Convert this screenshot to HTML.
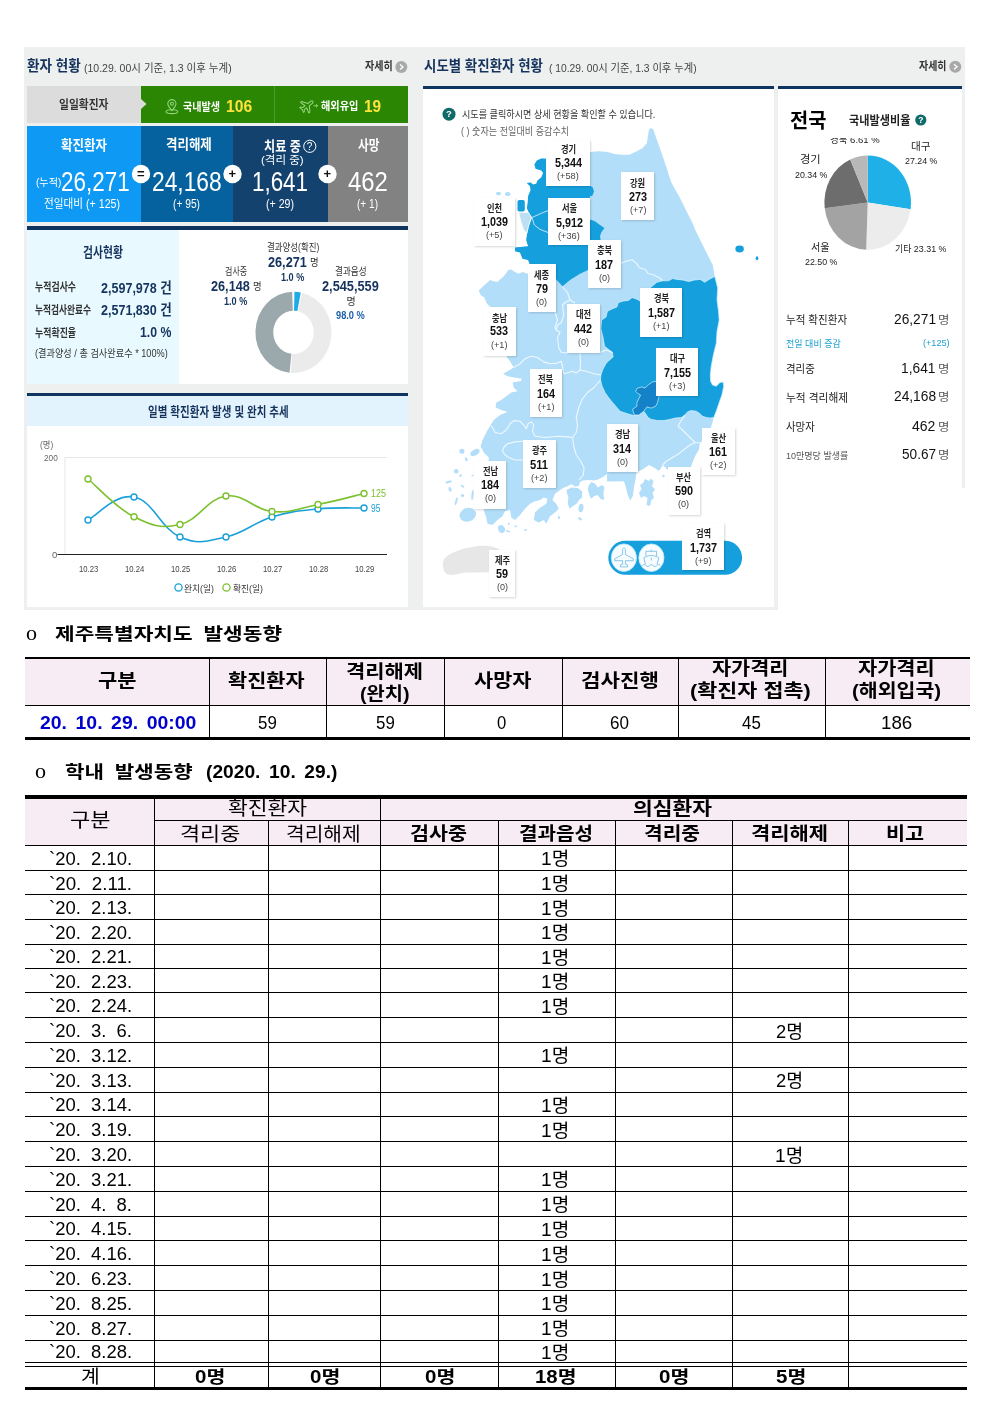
<!DOCTYPE html>
<html lang="ko"><head><meta charset="utf-8"><title>코로나19 발생동향</title>
<style>
html,body{margin:0;padding:0;}
body{width:992px;height:1403px;position:relative;background:#fff;overflow:hidden;font-family:"Liberation Sans","Noto Sans CJK KR",sans-serif;}
.t{position:absolute;white-space:nowrap;margin:0;padding:0;}
.r{position:absolute;}
svg.g{position:absolute;left:0;top:0;}
.lb{background:#fff;box-shadow:1px 1px 2px rgba(0,0,0,0.16);}

</style></head><body>
<div class="r" style="left:24px;top:47px;width:754px;height:563px;background:#eef0f0;"></div>
<div class="r" style="left:774px;top:47px;width:191px;height:440.5px;background:#eef0f0;"></div>
<div class="r" style="left:27px;top:85.5px;width:114px;height:37.0px;background:#dcdcdc;"></div>
<div class="r" style="left:141px;top:85.5px;width:266.5px;height:37.0px;background:#2a8603;"></div>
<div class="r" style="left:273.5px;top:85.5px;width:1.0px;height:37.0px;background:#4a9c2c;"></div>
<div class="r" style="left:27px;top:126px;width:114px;height:95.6px;background:#0e99f4;"></div>
<div class="r" style="left:141px;top:126px;width:91.5px;height:95.6px;background:#05629f;"></div>
<div class="r" style="left:232.5px;top:126px;width:95.0px;height:95.6px;background:#14426f;"></div>
<div class="r" style="left:327.5px;top:126px;width:80.0px;height:95.6px;background:#828282;"></div>
<div class="r" style="left:27px;top:226.3px;width:380.5px;height:3.6999999999999886px;background:#0f3460;"></div>
<div class="r" style="left:27px;top:230px;width:152px;height:154px;background:#e8faff;"></div>
<div class="r" style="left:179px;top:230px;width:228.5px;height:154px;background:#fff;"></div>
<div class="r" style="left:27px;top:392.5px;width:380.5px;height:3.0px;background:#0f3460;"></div>
<div class="r" style="left:27px;top:395.5px;width:380.5px;height:30.5px;background:#e3f3fd;"></div>
<div class="r" style="left:27px;top:426px;width:380.5px;height:181px;background:#fff;"></div>
<div class="r" style="left:423px;top:85.5px;width:351px;height:3.5px;background:#0f3460;"></div>
<div class="r" style="left:423px;top:89px;width:351px;height:518px;background:#fff;"></div>
<div class="r" style="left:778px;top:85.5px;width:184px;height:3.5px;background:#0f3460;"></div>
<div class="r" style="left:778px;top:89px;width:184px;height:398.5px;background:#fff;"></div>
<svg class="g" width="992" height="1403" viewBox="0 0 992 1403">
<circle cx="401.3" cy="67" r="6" fill="#a9a9a9"/><path d="M400 64.5 L403 67 L400 69.5" fill="none" stroke="#fff" stroke-width="1.3"/>
<circle cx="955.3" cy="66.8" r="6" fill="#a9a9a9"/><path d="M954 64.3 L957 66.8 L954 69.3" fill="none" stroke="#fff" stroke-width="1.3"/>
<path d="M141 99 L146.5 104 L141 109 Z" fill="#dcdcdc"/>
<g fill="none" stroke="#93d67c" stroke-width="1.1" transform="translate(0.4 3.3)"><path d="M171.5 107.3 C168.3 103.5 167.4 102 167.4 100.4 a4.1 4.1 0 0 1 8.2 0 C175.6 102 174.7 103.5 171.5 107.3 Z"/><circle cx="171.5" cy="100.4" r="1.5"/><ellipse cx="171.5" cy="108.4" rx="5.8" ry="1.9"/></g>
<g fill="none" stroke="#93d67c" stroke-width="1" stroke-linejoin="round"><path transform="translate(307.3 105.6) rotate(52)" d="M0 -7 C0.9 -7 1.3 -6 1.3 -5 L1.3 -1.6 L6.8 2 L6.8 3.4 L1.3 1.9 L1.3 4.8 L3 6.2 L3 7.2 L0 6.4 L-3 7.2 L-3 6.2 L-1.3 4.8 L-1.3 1.9 L-6.8 3.4 L-6.8 2 L-1.3 -1.6 L-1.3 -5 C-1.3 -6 -0.9 -7 0 -7 Z"/><path d="M313.6 105.8 H317.6 M316 104.2 L317.7 105.8 L316 107.4"/></g>
<circle cx="309.8" cy="146.3" r="6.1" fill="none" stroke="#fff" stroke-width="1"/>
<circle cx="141" cy="174" r="9.2" fill="#fff"/>
<circle cx="232.5" cy="174" r="9.2" fill="#fff"/>
<circle cx="327.5" cy="174" r="9.2" fill="#fff"/>
<path d="M294.49 291.65 A38 40.66 0 0 1 300.75 292.39 L297.35 311.08 A20.2 21.61 0 0 0 294.03 310.69 Z" fill="#1eaae8"/>
<path d="M302.05 292.68 A38 40.66 0 0 1 290.85 372.86 L292.09 353.86 A20.2 21.61 0 0 0 298.04 311.24 Z" fill="#ebebeb"/>
<path d="M289.53 372.74 A38 40.66 0 0 1 292.17 291.66 L292.80 310.70 A20.2 21.61 0 0 0 291.39 353.80 Z" fill="#9ba8ac"/>
<path d="M65 457.5 H387 M65 457.5 V554" fill="none" stroke="#e6e6e6" stroke-width="1"/>
<path d="M57.5 554.5 H387" stroke="#222" stroke-width="1.2" fill="none"/>
<path d="M88 520 C97.5 515.2 115.0 493.5 134 497 C153.0 500.5 161.0 528.7 180 537 C199.0 545.3 207.0 541.1 226 537 C245.0 532.9 253.0 522.8 272 517 C291.0 511.2 299.0 510.9 318 509 C337.0 507.1 354.5 508.2 364 508" fill="none" stroke="#1aa0d8" stroke-width="1.6"/>
<path d="M88 479 C97.5 486.8 115.0 507.3 134 516.75 C153.0 526.2 161.0 528.8 180 524.5 C199.0 520.2 207.0 498.7 226 496 C245.0 493.3 253.0 509.7 272 511.5 C291.0 513.3 299.0 508.2 318 504.5 C337.0 500.8 354.5 495.8 364 493.5" fill="none" stroke="#7ec12f" stroke-width="1.6"/>
<circle cx="88" cy="520" r="3" fill="#fff" stroke="#1aa0d8" stroke-width="1.4"/>
<circle cx="134" cy="497" r="3" fill="#fff" stroke="#1aa0d8" stroke-width="1.4"/>
<circle cx="180" cy="537" r="3" fill="#fff" stroke="#1aa0d8" stroke-width="1.4"/>
<circle cx="226" cy="537" r="3" fill="#fff" stroke="#1aa0d8" stroke-width="1.4"/>
<circle cx="272" cy="517" r="3" fill="#fff" stroke="#1aa0d8" stroke-width="1.4"/>
<circle cx="318" cy="509" r="3" fill="#fff" stroke="#1aa0d8" stroke-width="1.4"/>
<circle cx="364" cy="508" r="3" fill="#fff" stroke="#1aa0d8" stroke-width="1.4"/>
<circle cx="88" cy="479" r="3" fill="#fff" stroke="#7ec12f" stroke-width="1.4"/>
<circle cx="134" cy="516.75" r="3" fill="#fff" stroke="#7ec12f" stroke-width="1.4"/>
<circle cx="180" cy="524.5" r="3" fill="#fff" stroke="#7ec12f" stroke-width="1.4"/>
<circle cx="226" cy="496" r="3" fill="#fff" stroke="#7ec12f" stroke-width="1.4"/>
<circle cx="272" cy="511.5" r="3" fill="#fff" stroke="#7ec12f" stroke-width="1.4"/>
<circle cx="318" cy="504.5" r="3" fill="#fff" stroke="#7ec12f" stroke-width="1.4"/>
<circle cx="364" cy="493.5" r="3" fill="#fff" stroke="#7ec12f" stroke-width="1.4"/>
<circle cx="178.5" cy="587.5" r="3.6" fill="#fff" stroke="#1aa0d8" stroke-width="1.3"/>
<circle cx="226.5" cy="587.5" r="3.6" fill="#fff" stroke="#7ec12f" stroke-width="1.3"/>
<circle cx="449" cy="114.2" r="6.5" fill="#0f6a6a"/>
<polygon points="590,152 598.9,151.2 607.6,152 614.8,154.1 622.1,154.8 629.4,154.8 635.2,152 642.4,148.3 646.8,143.2 648.2,134.5 649,129.4 651.1,128 653.3,129.4 655.5,136 659.1,146.1 662.7,156.3 667.1,169.4 670.7,181 674.4,188.2 678.7,195.5 683.1,204.2 687.4,212.9 692.5,223.1 696.1,231.8 700.5,240.5 704.8,249.2 709.2,257.9 712.8,265.2 714.3,273.9 714.8,276.5 717.7,288 717,299.7 718.5,311.3 719.2,320 717,331.6 716.3,343.2 713.4,354.8 711.2,366.4 710.3,375 710.6,381.25 712.5,385 716.25,386.25 720,382.5 723.1,381.9 723.75,386.25 721.9,395 718.75,403.75 716.25,411.25 713.75,417.5 712.5,422.5 710,430 705,438 700,443 698.75,450 695,456.25 692.5,462.5 691.25,466.25 688,470 675,472 668,470 662.75,465 659,471 654,467.5 649,465 641.5,470 636.5,472 635.25,481.25 634,487.5 632.75,496.25 630.25,500.6 627.75,495 625.9,487.5 624,481.25 607,481.5 607,474 603,477 598,479.5 594,480.5 588,480 583,480.5 580,482 579,486 575,486.5 571.5,484 568,486 564,487.5 560,490 555,493.75 552.5,500 556.25,503.75 558.75,508.75 555,512.5 550,516.25 546.25,523.75 543.75,520 538.75,522.5 533.75,520 535,512.5 538.75,508.75 542.5,506.25 546.25,503.75 547.5,498.75 543.75,497.5 540,500 535,501.25 530,503.75 525,508.75 520,515 515,520 511.25,517.5 510,510 505,511.25 502.5,516.25 497.5,520 492.5,525 487.5,523.75 486.25,517.5 483.75,510 483,500 484,480 488.75,460 488.75,457.5 483.75,452.5 480.6,446.25 482.5,440 486.25,432.5 490.6,425 493.75,420 500,415 507.5,411.9 501.25,410 495.6,407.5 496.25,402.5 501.25,400 506.25,396.25 511.25,392.5 517.5,391.25 513.75,387.5 512.5,382.5 521.25,381 521.25,378.5 513.75,377.5 507.5,376.25 503.1,373.75 507.5,371.25 513.75,367.5 510,361.25 506.25,356.25 500,340 495,320 491.25,307.5 488.75,305.6 486.25,302.5 484.4,297.5 480.6,295 478.75,290.6 483.1,286.25 486.9,283.1 490,280 493.75,281.25 497.5,281.9 500,279.4 503.1,276.9 506.25,273.1 508.1,270 511.25,269.4 515,271.9 518.75,273.75 522.5,271.9 528,273.75 540,275 540,266 530,265 528.1,260 522.5,258.75 520,252.5 515,251.25 515,247.5 528.1,246.25 526.25,240 526.9,235 528.75,226.25 531.9,217.5 528.75,212.5 526.9,208.1 527.75,202.5 528.1,196.25 530.6,190 530,186.25 526.9,183.1 530.6,182.5 533.1,184.4 536.25,183.75 537.5,180.6 541.25,177.5 543.1,173.1 541.25,170.6 535.6,168.75 534.4,164.4 536.9,160.6 541.25,158.5 546.9,158.75 590,158" fill="#b3defa"/>
<polygon points="546.9,158.75 541.25,158.5 536.9,160.6 534.4,164.4 535.6,168.75 541.25,170.6 543.1,173.1 541.25,177.5 537.5,180.6 536.25,183.75 533.1,184.4 530.6,182.5 526.9,183.1 530,186.25 530.6,190 528.1,196.25 527.75,202.5 526.9,208.1 528.75,212.5 531.9,217.5 528.75,226.25 526.9,235 526.25,240 528.1,246.25 515,247.5 515,251.25 520,252.5 522.5,258.75 528.1,260 530,265 555.6,265 555.6,278.75 562.5,286.25 570,280 580,273.75 588.1,270 600.6,262 600.6,240 600,236.25 601.25,232.5 604.4,228.1 600,225 595,221.25 590,219.4 590,197 589,196.9 592.5,195.5 594,191.2 592.5,187 589,185.6 546.9,185.6" fill="#15a0dd"/>
<rect x="517.5" y="200" width="7.3" height="11.5" rx="1.8" fill="#15a0dd"/>
<polygon points="518.75,212.5 528.5,212.5 531.5,217.5 528.5,226 527,233 524,230.5 521,222" fill="#bcdff2" stroke="#fff" stroke-width="0.7"/>
<ellipse cx="498.5" cy="193.6" rx="2.6" ry="1.8" fill="#b3defa"/><ellipse cx="507.8" cy="194" rx="2.8" ry="2" fill="#b3defa"/>
<path d="M531.9 217.5 L537.5 215 L543.1 212.5 L548.1 210.6 M531.9 217.5 L534.4 225 L540 229.4 L548.1 232.5" fill="none" stroke="#e8f4fc" stroke-width="0.8"/>
<polygon points="714.8,276.5 709,279.4 704.7,282.3 700.3,279.4 694.5,280 688.7,281.5 682.9,280 677.1,279.4 672.7,278.6 668.4,280.8 662.6,280.8 656.8,282.3 652.4,285.9 648,290 644,296 640,301 636.5,299 632.1,297.5 628.5,300.4 623.4,301 618.3,302.6 616.9,306.9 611.8,309 607.4,311.3 606,317 601.6,320 600.9,328.7 603,337.4 604.5,346 608,349 612.5,352.5 613,357 609,360.5 606,363.5 603,369 600.9,375 600.5,380 602,386 605,392.5 608.5,397.5 612.5,402.5 616,406.5 620,411.25 627.5,413.75 633.75,415.6 638.75,415 643.75,411.25 645.6,413.75 648.1,417.5 651.25,419.4 657.5,420.6 663.75,420.6 670,419.4 675,418.1 681.25,417.5 685,415 687.5,411.9 691.25,410.6 696.25,411.25 700,413.75 702.5,416.25 706.25,417.5 710,418.1 713.75,417.5 713.75,417.5 716.25,411.25 718.75,403.75 721.9,395 723.75,386.25 723.1,381.9 720,382.5 716.25,386.25 712.5,385 710.6,381.25 710.3,375 711.2,366.4 713.4,354.8 716.3,343.2 717,331.6 719.2,320 718.5,311.3 717,299.7 717.7,288" fill="#15a0dd" stroke="#d9f3fd" stroke-width="0.7" stroke-linejoin="round"/>
<polygon points="660,381 656.25,381.25 652.5,381.9 648.1,385 645,388.1 641.9,386.9 637.5,388.1 635.6,391.25 638.1,393.75 640.6,395 638.75,398.75 636.9,402.5 636.9,406.25 632.5,409.4 634.4,415 638.75,415 643.75,411.25 646.9,406.9 651.25,408.1 655.6,406.25 657.5,402.5 658.75,397.5 660,394" fill="#1482c8" stroke="#d6ecfa" stroke-width="0.7"/>
<ellipse cx="739.6" cy="249" rx="4.3" ry="3.4" fill="#15a0dd"/><ellipse cx="757" cy="258.3" rx="1.3" ry="2" fill="#15a0dd"/>
<polygon points="645,479 649,481 650.5,478.5 653.5,481 652,486 655,489.5 652.5,493 654,498 651.5,500 650,506 646.5,505 647.5,498 644,496 641,498 639,493 641.5,489 640,485 643,483" fill="#b3defa"/>
<polygon points="589,485 591.5,482 595.25,483.75 597.75,487.5 602,485 604.6,487.5 603.4,492.5 604,500 600.25,498.75 597.75,495 594,496.25 590.9,498.75 589,493.75 587.75,488.75" fill="#b3defa"/>
<polygon points="566.5,490 571.5,487.5 577.75,488.1 582.1,491.25 582.1,497.5 579,500 576.5,503.75 572.75,506.25 569.6,508.75 567.75,503.75 568.4,497.5 567.1,493.75" fill="#b3defa"/>
<path d="M620.5 263.4 L626.3 261.2 L632.1 259.8 L636.5 263.4 L639.4 267.7 L645.2 269.2 L648 273.5 L653.9 275 L659.7 277.9 L662.6 280.5" fill="none" stroke="#eef8fe" stroke-width="1.1" stroke-linejoin="round"/>
<path d="M562.5 286.9 L567.5 292.5 L570 300 L565 302.5 L562.5 305 L563.75 315 L561.25 322.5 L557.5 325 L556.25 330 L560 332.5 L557.5 337.5 L558.75 347.5 L561.25 352.5 L567 353" fill="none" stroke="#eef8fe" stroke-width="1.1" stroke-linejoin="round"/>
<path d="M555 312.5 L557.5 320 L555 327.5 L556.25 330" fill="none" stroke="#eef8fe" stroke-width="1.1" stroke-linejoin="round"/>
<path d="M570 300 L575 303 M600 352.5 L606 350 L612.5 352.5 M580 352 L580 355 L580.6 362.5 L580 370" fill="none" stroke="#eef8fe" stroke-width="1.1" stroke-linejoin="round"/>
<path d="M513.75 367.5 L520 363.75 L525 358.75 L531.25 356.25 L537.5 357.5 L543.75 361.9 L550 363.75 L557.5 363.1 L561.25 361.25 L562.5 366.25 L563.75 373.75 L568.75 372.5 L572.5 371.25 L576.25 373.1 L580 370 L586.25 371.25 L594 373.75 L600.9 375" fill="none" stroke="#eef8fe" stroke-width="1.1" stroke-linejoin="round"/>
<path d="M600.5 380 L594 387.5 L587.5 392.5 L582.5 398.75 L578.75 407.5 L576.25 417.5 L577.5 425 L576.25 432.5 L572.5 437.5" fill="none" stroke="#eef8fe" stroke-width="1.1" stroke-linejoin="round"/>
<path d="M490.6 425 L492.5 427.5 L495 432.5 L501.25 433.75 L506.25 430 L510 423.75 L513.75 420.6 L520 421.25 L523.75 425 L526.25 428.75 L528.1 423.75 L531.25 421.9 L533.75 425 L532.5 431.25 L535 436.25 L545 437.5 L557.5 436.25 L567.5 436.9 L572.5 437.5" fill="none" stroke="#eef8fe" stroke-width="1.1" stroke-linejoin="round"/>
<path d="M572.5 437.5 L573.75 446.25 L576.25 455 L580 460 L584 467.5 L583.4 475 L579 480" fill="none" stroke="#eef8fe" stroke-width="1.1" stroke-linejoin="round"/>
<path d="M523.75 441.25 L515 441.9 L507.5 443.75 L503.75 447.5 L502.5 451.25 L505 455 L510 458.1 L515 460 L523.75 460" fill="none" stroke="#eef8fe" stroke-width="1.1" stroke-linejoin="round"/>
<path d="M685 415 L680 422.5 L678.1 426.25 L682.5 430 L687.5 435 L692.5 440 L695 442.5 L700 443 M695 442.5 L690 445 L685 448.75 L678.75 453.75 L672.5 457.5 L666.25 461.25 L662.5 465" fill="none" stroke="#eef8fe" stroke-width="1.1" stroke-linejoin="round"/>
<ellipse cx="461.9" cy="451.25" rx="2.5" ry="2.5" fill="#b3defa" transform="rotate(0 461.9 451.25)"/>
<ellipse cx="475" cy="452.5" rx="5" ry="2.8" fill="#b3defa" transform="rotate(-30 475 452.5)"/>
<ellipse cx="466.25" cy="459.4" rx="1.2" ry="2.2" fill="#b3defa" transform="rotate(-20 466.25 459.4)"/>
<ellipse cx="456.25" cy="471.25" rx="2.3" ry="2.3" fill="#b3defa" transform="rotate(0 456.25 471.25)"/>
<ellipse cx="460.6" cy="475.6" rx="1" ry="1.6" fill="#b3defa" transform="rotate(30 460.6 475.6)"/>
<ellipse cx="448.75" cy="481.9" rx="3.5" ry="1.1" fill="#b3defa" transform="rotate(-15 448.75 481.9)"/>
<ellipse cx="472.5" cy="475.6" rx="1.2" ry="0.8" fill="#b3defa" transform="rotate(0 472.5 475.6)"/>
<ellipse cx="450" cy="489.4" rx="1.5" ry="2.5" fill="#b3defa" transform="rotate(-15 450 489.4)"/>
<ellipse cx="462.5" cy="486.25" rx="2.2" ry="1" fill="#b3defa" transform="rotate(35 462.5 486.25)"/>
<ellipse cx="462.5" cy="495.6" rx="1.6" ry="1.6" fill="#b3defa" transform="rotate(0 462.5 495.6)"/>
<ellipse cx="472.5" cy="495" rx="1.1" ry="5" fill="#b3defa" transform="rotate(5 472.5 495)"/>
<ellipse cx="456.25" cy="501.25" rx="1.1" ry="4" fill="#b3defa" transform="rotate(15 456.25 501.25)"/>
<ellipse cx="467.8" cy="514.7" rx="8.4" ry="6.8" fill="#b3defa" transform="rotate(-20 467.8 514.7)"/>
<ellipse cx="501.5" cy="529" rx="3.3" ry="4" fill="#b3defa" transform="rotate(-25 501.5 529)"/>
<ellipse cx="508" cy="531.25" rx="2.5" ry="0.9" fill="#b3defa" transform="rotate(20 508 531.25)"/>
<ellipse cx="508.75" cy="523.75" rx="1.1" ry="1.1" fill="#b3defa" transform="rotate(0 508.75 523.75)"/>
<ellipse cx="515.6" cy="526.25" rx="1.2" ry="1" fill="#b3defa" transform="rotate(0 515.6 526.25)"/>
<ellipse cx="525.6" cy="530" rx="1.4" ry="1" fill="#b3defa" transform="rotate(0 525.6 530)"/>
<ellipse cx="558.75" cy="517.5" rx="0.9" ry="1.6" fill="#b3defa" transform="rotate(0 558.75 517.5)"/>
<ellipse cx="581" cy="508" rx="2.4" ry="4.2" fill="#b3defa" transform="rotate(10 581 508)"/>
<ellipse cx="580" cy="518.75" rx="2.2" ry="1.2" fill="#b3defa" transform="rotate(35 580 518.75)"/>
<ellipse cx="559" cy="517.5" rx="0.9" ry="1.2" fill="#b3defa" transform="rotate(0 559 517.5)"/>
<ellipse cx="663.4" cy="476" rx="1.2" ry="1.2" fill="#b3defa" transform="rotate(0 663.4 476)"/>
<path d="M443 566 C442 560 445.5 556.5 452 553 C460 549.5 470 546.5 482 545.8 C490 545.3 496 547 500 550 L500 572 C490 572.5 478 572.5 468 572.5 C462 572.5 458 574.5 452 575 C446 575.2 443.5 572 443 566 Z" fill="#e7e7e7"/>
<rect x="608.3" y="540.7" width="133.8" height="34" rx="17" fill="#15a0dd"/>
<ellipse cx="623.9" cy="557.7" rx="12.6" ry="13.8" fill="#f6fcff" stroke="#bfe6f8" stroke-width="0.8"/>
<ellipse cx="651.4" cy="557.7" rx="12.6" ry="13.8" fill="#f6fcff" stroke="#bfe6f8" stroke-width="0.8"/>
<g fill="none" stroke="#7fc0e4" stroke-width="0.9" stroke-linejoin="round"><path d="M624 548 c1 0 1.4 0.8 1.4 1.8 v4.6 l7.9 4.4 v1.9 h-7.9 v3.6 l2.2 0.6 v2 h-7.2 v-2 l2.2 -0.6 v-3.6 h-7.9 v-1.9 l7.9 -4.4 v-4.6 c0 -1 0.4 -1.8 1.4 -1.8 Z"/></g>
<g fill="none" stroke="#7fc0e4" stroke-width="0.9" stroke-linejoin="round"><path d="M645.9 556 v-4.7 h10.7 v4.7"/><path d="M651.25 551.3 v-1.6"/><path d="M643.8 557.8 c2.5 -1.6 5 -2.3 7.5 -2.3 c2.5 0 5 0.7 7.5 2.3 l-1.6 6.4 M643.8 557.8 l1.6 6.4"/><path d="M651.3 557.5 v3"/><path d="M642.3 565.6 c1.2 -1.4 2.4 -1.4 3.6 0 c1.2 1.2 2.4 1.2 3.6 0 c1.2 -1.4 2.4 -1.4 3.6 0 c1.2 1.2 2.4 1.2 3.6 0 c1.2 -1.4 2.4 -1.4 3.6 0"/></g>
<circle cx="920.8" cy="120" r="5.6" fill="#0f6a6a"/>
<path d="M867.7 202.6 L867.70 155.40 A43.3 47.20 0 0 1 910.57 209.25 Z" fill="#1fb0e8"/>
<path d="M867.7 202.6 L910.57 209.25 A43.3 47.20 0 0 1 866.19 249.77 Z" fill="#ececec"/>
<path d="M867.7 202.6 L866.19 249.77 A43.3 47.20 0 0 1 824.72 208.35 Z" fill="#a3a3a3"/>
<path d="M867.7 202.6 L824.72 208.35 A43.3 47.20 0 0 1 850.23 159.42 Z" fill="#6d6d6d"/>
<path d="M867.7 202.6 L850.23 159.42 A43.3 47.20 0 0 1 867.70 155.40 Z" fill="#b8b8b8"/>
</svg>
<div class="r lb" style="left:546px;top:140px;width:44.0px;height:46.0px;"></div>
<div class="r lb" style="left:621.4px;top:172.3px;width:32.6px;height:47.9px;"></div>
<div class="r lb" style="left:474px;top:197.5px;width:41.0px;height:48.5px;"></div>
<div class="r lb" style="left:548px;top:198px;width:42.0px;height:47.0px;"></div>
<div class="r lb" style="left:588px;top:240px;width:32.6px;height:48.0px;"></div>
<div class="r lb" style="left:528px;top:264.4px;width:27.6px;height:48.1px;"></div>
<div class="r lb" style="left:482.5px;top:306.9px;width:33.1px;height:49.1px;"></div>
<div class="r lb" style="left:567px;top:304px;width:33.0px;height:48.5px;"></div>
<div class="r lb" style="left:640px;top:288px;width:42.2px;height:48.7px;"></div>
<div class="r lb" style="left:656.25px;top:348.1px;width:41.9px;height:47.5px;"></div>
<div class="r lb" style="left:529.5px;top:369px;width:32.5px;height:48.0px;"></div>
<div class="r lb" style="left:606.5px;top:424px;width:31.5px;height:47.5px;"></div>
<div class="r lb" style="left:523px;top:440px;width:32.5px;height:48.0px;"></div>
<div class="r lb" style="left:702px;top:427.5px;width:33.0px;height:47.5px;"></div>
<div class="r lb" style="left:474.4px;top:460.6px;width:31.6px;height:48.8px;"></div>
<div class="r lb" style="left:667.5px;top:466.5px;width:32.5px;height:48.5px;"></div>
<div class="r lb" style="left:489px;top:549.5px;width:26.0px;height:47.5px;"></div>
<div class="r lb" style="left:681.7px;top:523px;width:42.6px;height:47.3px;"></div>
<div class="r" style="left:826px;top:138px;width:56px;height:8px;overflow:hidden;"><div class="t" style="left:4px;top:-5.4px;font-size:9.5px;line-height:13px;color:#222;">경북 6.61 %</div></div>
<div class="r" style="left:25px;top:658px;width:944.5px;height:47px;background:#f8ecf4;"></div>
<div class="r" style="left:25px;top:657px;width:944.5px;height:2.2999999999999545px;background:#000;"></div>
<div class="r" style="left:25px;top:705px;width:944.5px;height:1px;background:#000;"></div>
<div class="r" style="left:25px;top:737.2px;width:944.5px;height:2.3999999999999773px;background:#000;"></div>
<div class="r" style="left:208.5px;top:658px;width:1.0px;height:80px;background:#000;"></div>
<div class="r" style="left:325.5px;top:658px;width:1.0px;height:80px;background:#000;"></div>
<div class="r" style="left:443.5px;top:658px;width:1.0px;height:80px;background:#000;"></div>
<div class="r" style="left:561.5px;top:658px;width:1.0px;height:80px;background:#000;"></div>
<div class="r" style="left:677.5px;top:658px;width:1.0px;height:80px;background:#000;"></div>
<div class="r" style="left:824.5px;top:658px;width:1.0px;height:80px;background:#000;"></div>
<div class="r" style="left:25px;top:797px;width:941.5px;height:48px;background:#f8ecf4;"></div>
<div class="r" style="left:25px;top:795px;width:941.5px;height:3.5px;background:#000;"></div>
<div class="r" style="left:153.5px;top:820px;width:813.0px;height:1px;background:#000;"></div>
<div class="r" style="left:25px;top:845px;width:941.5px;height:1px;background:#000;"></div>
<div class="r" style="left:25px;top:870px;width:941.5px;height:1px;background:#000;"></div>
<div class="r" style="left:25px;top:894px;width:941.5px;height:1px;background:#000;"></div>
<div class="r" style="left:25px;top:919px;width:941.5px;height:1px;background:#000;"></div>
<div class="r" style="left:25px;top:944px;width:941.5px;height:1px;background:#000;"></div>
<div class="r" style="left:25px;top:968px;width:941.5px;height:1px;background:#000;"></div>
<div class="r" style="left:25px;top:992px;width:941.5px;height:1px;background:#000;"></div>
<div class="r" style="left:25px;top:1017px;width:941.5px;height:1px;background:#000;"></div>
<div class="r" style="left:25px;top:1042px;width:941.5px;height:1px;background:#000;"></div>
<div class="r" style="left:25px;top:1067px;width:941.5px;height:1px;background:#000;"></div>
<div class="r" style="left:25px;top:1092px;width:941.5px;height:1px;background:#000;"></div>
<div class="r" style="left:25px;top:1116px;width:941.5px;height:1px;background:#000;"></div>
<div class="r" style="left:25px;top:1141px;width:941.5px;height:1px;background:#000;"></div>
<div class="r" style="left:25px;top:1166px;width:941.5px;height:1px;background:#000;"></div>
<div class="r" style="left:25px;top:1191px;width:941.5px;height:1px;background:#000;"></div>
<div class="r" style="left:25px;top:1216px;width:941.5px;height:1px;background:#000;"></div>
<div class="r" style="left:25px;top:1240px;width:941.5px;height:1px;background:#000;"></div>
<div class="r" style="left:25px;top:1265px;width:941.5px;height:1px;background:#000;"></div>
<div class="r" style="left:25px;top:1290px;width:941.5px;height:1px;background:#000;"></div>
<div class="r" style="left:25px;top:1315px;width:941.5px;height:1px;background:#000;"></div>
<div class="r" style="left:25px;top:1340px;width:941.5px;height:1px;background:#000;"></div>
<div class="r" style="left:25px;top:1362px;width:941.5px;height:1px;background:#000;"></div>
<div class="r" style="left:25px;top:1365.5px;width:941.5px;height:1.0px;background:#000;"></div>
<div class="r" style="left:25px;top:1387px;width:941.5px;height:3px;background:#000;"></div>
<div class="r" style="left:153.5px;top:797px;width:1.0px;height:591px;background:#000;"></div>
<div class="r" style="left:267.5px;top:821px;width:1.0px;height:567px;background:#000;"></div>
<div class="r" style="left:379.5px;top:797px;width:1.0px;height:591px;background:#000;"></div>
<div class="r" style="left:497.5px;top:821px;width:1.0px;height:567px;background:#000;"></div>
<div class="r" style="left:614.5px;top:821px;width:1.0px;height:567px;background:#000;"></div>
<div class="r" style="left:731.5px;top:821px;width:1.0px;height:567px;background:#000;"></div>
<div class="r" style="left:847.5px;top:821px;width:1.0px;height:567px;background:#000;"></div>
<div class="t" style="left:27.00px;top:55.00px;font-size:15px;line-height:22px;font-weight:700;color:#15335d;transform:scaleX(0.907);transform-origin:0 0;">환자 현황</div>
<div class="t" style="left:84.00px;top:59.50px;font-size:11px;line-height:16px;color:#444;transform:scaleX(0.955);transform-origin:0 0;">(10.29. 00시 기준, 1.3 이후 누계)</div>
<div class="t" style="left:364.75px;top:58.20px;font-size:11px;line-height:16px;font-weight:700;color:#333;transform:scaleX(0.915);transform-origin:0 0;">자세히</div>
<div class="t" style="left:423.75px;top:55.00px;font-size:15px;line-height:22px;font-weight:700;color:#15335d;transform:scaleX(0.897);transform-origin:0 0;">시도별 확진환자 현황</div>
<div class="t" style="left:549.00px;top:59.50px;font-size:11px;line-height:16px;color:#444;transform:scaleX(0.936);transform-origin:0 0;">( 10.29. 00시 기준, 1.3 이후 누계)</div>
<div class="t" style="left:919.00px;top:58.20px;font-size:11px;line-height:16px;font-weight:700;color:#333;transform:scaleX(0.906);transform-origin:0 0;">자세히</div>
<div class="t" style="left:59.05px;top:96.30px;font-size:12px;line-height:18px;font-weight:700;color:#333;transform:scaleX(0.897);transform-origin:0 0;">일일확진자</div>
<div class="t" style="left:183.40px;top:98.50px;font-size:11px;line-height:16px;font-weight:700;color:#fff;transform:scaleX(0.917);transform-origin:0 0;">국내발생</div>
<div class="t" style="left:226.02px;top:95.10px;font-size:16px;line-height:24px;font-weight:700;color:#ffe33a;transform:scaleX(0.977);transform-origin:0 0;">106</div>
<div class="t" style="left:320.70px;top:98.00px;font-size:11px;line-height:16px;font-weight:700;color:#fff;transform:scaleX(0.922);transform-origin:0 0;">해외유입</div>
<div class="t" style="left:364.04px;top:95.10px;font-size:16px;line-height:24px;font-weight:700;color:#ffe33a;transform:scaleX(0.959);transform-origin:0 0;">19</div>
<div class="t" style="left:61.00px;top:134.50px;font-size:14px;line-height:21px;font-weight:700;color:#fff;transform:scaleX(0.891);transform-origin:0 0;">확진환자</div>
<div class="t" style="left:35.50px;top:175.00px;font-size:10px;line-height:15px;color:#fff;transform:scaleX(1.011);transform-origin:0 0;">(누적)</div>
<div class="t" style="left:61.17px;top:161.50px;font-size:27px;line-height:40px;color:#fff;transform:scaleX(0.832);transform-origin:0 0;">26,271</div>
<div class="t" style="left:44.00px;top:195.00px;font-size:12px;line-height:18px;color:#fff;transform:scaleX(0.885);transform-origin:0 0;">전일대비 (+ 125)</div>
<div class="t" style="left:166.00px;top:134.00px;font-size:14px;line-height:21px;font-weight:700;color:#fff;transform:scaleX(0.889);transform-origin:0 0;">격리해제</div>
<div class="t" style="left:152.16px;top:161.50px;font-size:27px;line-height:40px;color:#fff;transform:scaleX(0.844);transform-origin:0 0;">24,168</div>
<div class="t" style="left:173.00px;top:194.50px;font-size:12px;line-height:18px;color:#fff;transform:scaleX(0.852);transform-origin:0 0;">(+ 95)</div>
<div class="t" style="left:263.50px;top:136.50px;font-size:13.5px;line-height:20px;font-weight:700;color:#fff;transform:scaleX(0.899);transform-origin:0 0;">치료 중</div>
<div class="t" style="left:306.80px;top:139.40px;font-size:10px;line-height:15px;color:#fff;">?</div>
<div class="t" style="left:260.60px;top:151.50px;font-size:11px;line-height:16px;color:#fff;transform:scaleX(1.048);transform-origin:0 0;">(격리 중)</div>
<div class="t" style="left:252.09px;top:161.50px;font-size:27px;line-height:40px;color:#fff;transform:scaleX(0.829);transform-origin:0 0;">1,641</div>
<div class="t" style="left:265.60px;top:194.50px;font-size:12px;line-height:18px;color:#fff;transform:scaleX(0.884);transform-origin:0 0;">(+ 29)</div>
<div class="t" style="left:357.95px;top:134.50px;font-size:14px;line-height:21px;font-weight:700;color:#fff;transform:scaleX(0.831);transform-origin:0 0;">사망</div>
<div class="t" style="left:348.00px;top:161.50px;font-size:27px;line-height:40px;color:#fff;transform:scaleX(0.886);transform-origin:0 0;">462</div>
<div class="t" style="left:356.90px;top:194.50px;font-size:12px;line-height:18px;color:#fff;transform:scaleX(0.840);transform-origin:0 0;">(+ 1)</div>
<div class="t" style="left:137.00px;top:163.50px;font-size:13px;line-height:20px;font-weight:700;color:#111;">=</div>
<div class="t" style="left:228.50px;top:164.00px;font-size:13px;line-height:20px;font-weight:700;color:#111;">+</div>
<div class="t" style="left:323.50px;top:164.00px;font-size:13px;line-height:20px;font-weight:700;color:#111;">+</div>
<div class="t" style="left:83.00px;top:242.00px;font-size:14px;line-height:21px;font-weight:700;color:#15335d;transform:scaleX(0.775);transform-origin:0 0;">검사현황</div>
<div class="t" style="left:35.00px;top:279.00px;font-size:11px;line-height:16px;font-weight:700;color:#333;transform:scaleX(0.812);transform-origin:0 0;">누적검사수</div>
<div class="t" style="left:100.50px;top:276.50px;font-size:14.5px;line-height:22px;font-weight:700;color:#15335d;transform:scaleX(0.865);transform-origin:0 0;">2,597,978 건</div>
<div class="t" style="left:35.00px;top:301.50px;font-size:11px;line-height:16px;font-weight:700;color:#333;transform:scaleX(0.792);transform-origin:0 0;">누적검사완료수</div>
<div class="t" style="left:100.50px;top:299.00px;font-size:14.5px;line-height:22px;font-weight:700;color:#15335d;transform:scaleX(0.865);transform-origin:0 0;">2,571,830 건</div>
<div class="t" style="left:35.00px;top:324.50px;font-size:11px;line-height:16px;font-weight:700;color:#333;transform:scaleX(0.812);transform-origin:0 0;">누적확진율</div>
<div class="t" style="left:139.50px;top:321.00px;font-size:14.5px;line-height:22px;font-weight:700;color:#15335d;transform:scaleX(0.847);transform-origin:0 0;">1.0 %</div>
<div class="t" style="left:35.00px;top:346.00px;font-size:10px;line-height:15px;color:#333;transform:scaleX(0.917);transform-origin:0 0;">(결과양성 / 총 검사완료수 * 100%)</div>
<div class="t" style="left:225.00px;top:263.50px;font-size:10px;line-height:15px;color:#333;transform:scaleX(0.803);transform-origin:0 0;">검사중</div>
<div class="t" style="left:211.00px;top:276.00px;font-size:14px;line-height:21px;font-weight:700;color:#15335d;transform:scaleX(0.906);transform-origin:0 0;">26,148</div>
<div class="t" style="left:252.50px;top:279.30px;font-size:10px;line-height:15px;color:#333;transform:scaleX(0.938);transform-origin:0 0;">명</div>
<div class="t" style="left:224.45px;top:292.50px;font-size:11px;line-height:16px;font-weight:700;color:#15335d;transform:scaleX(0.829);transform-origin:0 0;">1.0 %</div>
<div class="t" style="left:267.00px;top:240.00px;font-size:10px;line-height:15px;color:#333;transform:scaleX(0.845);transform-origin:0 0;">결과양성(확진)</div>
<div class="t" style="left:268.00px;top:252.00px;font-size:14px;line-height:21px;font-weight:700;color:#15335d;transform:scaleX(0.906);transform-origin:0 0;">26,271</div>
<div class="t" style="left:309.50px;top:255.30px;font-size:10px;line-height:15px;color:#333;transform:scaleX(0.938);transform-origin:0 0;">명</div>
<div class="t" style="left:281.05px;top:269.00px;font-size:11px;line-height:16px;font-weight:700;color:#15335d;transform:scaleX(0.829);transform-origin:0 0;">1.0 %</div>
<div class="t" style="left:334.95px;top:263.50px;font-size:10px;line-height:15px;color:#333;transform:scaleX(0.857);transform-origin:0 0;">결과음성</div>
<div class="t" style="left:321.90px;top:276.00px;font-size:14px;line-height:21px;font-weight:700;color:#15335d;transform:scaleX(0.912);transform-origin:0 0;">2,545,559</div>
<div class="t" style="left:346.50px;top:294.00px;font-size:10px;line-height:15px;color:#333;">명</div>
<div class="t" style="left:336.00px;top:306.50px;font-size:11px;line-height:16px;font-weight:700;color:#1b5fa8;transform:scaleX(0.841);transform-origin:0 0;">98.0 %</div>
<div class="t" style="left:147.50px;top:401.50px;font-size:13px;line-height:20px;font-weight:700;color:#15335d;transform:scaleX(0.811);transform-origin:0 0;">일별 확진환자 발생 및 완치 추세</div>
<div class="t" style="left:40.00px;top:437.50px;font-size:9.5px;line-height:14px;color:#666;transform:scaleX(0.872);transform-origin:0 0;">(명)</div>
<div class="t" style="left:43.50px;top:450.50px;font-size:9.5px;line-height:14px;color:#666;transform:scaleX(0.867);transform-origin:0 0;">200</div>
<div class="t" style="left:52.00px;top:547.50px;font-size:9.5px;line-height:14px;color:#666;">0</div>
<div class="t" style="left:370.50px;top:484.50px;font-size:10.5px;line-height:16px;color:#7ec12f;transform:scaleX(0.848);transform-origin:0 0;">125</div>
<div class="t" style="left:370.50px;top:499.50px;font-size:10.5px;line-height:16px;color:#1aa0d8;transform:scaleX(0.802);transform-origin:0 0;">95</div>
<div class="t" style="left:78.75px;top:563.00px;font-size:8.5px;line-height:13px;color:#444;transform:scaleX(0.905);transform-origin:0 0;">10.23</div>
<div class="t" style="left:124.75px;top:563.00px;font-size:8.5px;line-height:13px;color:#444;transform:scaleX(0.905);transform-origin:0 0;">10.24</div>
<div class="t" style="left:170.75px;top:563.00px;font-size:8.5px;line-height:13px;color:#444;transform:scaleX(0.905);transform-origin:0 0;">10.25</div>
<div class="t" style="left:216.75px;top:563.00px;font-size:8.5px;line-height:13px;color:#444;transform:scaleX(0.905);transform-origin:0 0;">10.26</div>
<div class="t" style="left:262.75px;top:563.00px;font-size:8.5px;line-height:13px;color:#444;transform:scaleX(0.905);transform-origin:0 0;">10.27</div>
<div class="t" style="left:308.75px;top:563.00px;font-size:8.5px;line-height:13px;color:#444;transform:scaleX(0.905);transform-origin:0 0;">10.28</div>
<div class="t" style="left:354.75px;top:563.00px;font-size:8.5px;line-height:13px;color:#444;transform:scaleX(0.905);transform-origin:0 0;">10.29</div>
<div class="t" style="left:184.00px;top:581.50px;font-size:9px;line-height:14px;color:#333;transform:scaleX(0.973);transform-origin:0 0;">완치(일)</div>
<div class="t" style="left:232.50px;top:581.50px;font-size:9px;line-height:14px;color:#333;transform:scaleX(0.973);transform-origin:0 0;">확진(일)</div>
<div class="t" style="left:446.00px;top:107.20px;font-size:9.5px;line-height:14px;font-weight:700;color:#fff;">?</div>
<div class="t" style="left:462.00px;top:107.00px;font-size:10px;line-height:15px;color:#333;transform:scaleX(0.909);transform-origin:0 0;">시도를 클릭하시면 상세 현황을 확인할 수 있습니다.</div>
<div class="t" style="left:461.00px;top:123.50px;font-size:10px;line-height:15px;color:#666;transform:scaleX(0.909);transform-origin:0 0;">( ) 숫자는 전일대비 증감수치</div>
<div class="t" style="left:560.50px;top:141.50px;font-size:10px;line-height:15px;font-weight:700;color:#222;transform:scaleX(0.824);transform-origin:0 0;">경기</div>
<div class="t" style="left:554.50px;top:153.70px;font-size:12.5px;line-height:19px;font-weight:700;color:#111;transform:scaleX(0.862);transform-origin:0 0;">5,344</div>
<div class="t" style="left:557.20px;top:169.00px;font-size:9.6px;line-height:14px;color:#444;transform:scaleX(0.961);transform-origin:0 0;">(+58)</div>
<div class="t" style="left:630.20px;top:175.60px;font-size:10px;line-height:15px;font-weight:700;color:#222;transform:scaleX(0.824);transform-origin:0 0;">강원</div>
<div class="t" style="left:628.62px;top:187.80px;font-size:12.5px;line-height:19px;font-weight:700;color:#111;transform:scaleX(0.868);transform-origin:0 0;">273</div>
<div class="t" style="left:629.55px;top:203.10px;font-size:9.6px;line-height:14px;color:#444;transform:scaleX(0.951);transform-origin:0 0;">(+7)</div>
<div class="t" style="left:487.00px;top:201.30px;font-size:10px;line-height:15px;font-weight:700;color:#222;transform:scaleX(0.824);transform-origin:0 0;">인천</div>
<div class="t" style="left:481.00px;top:213.00px;font-size:12.5px;line-height:19px;font-weight:700;color:#111;transform:scaleX(0.862);transform-origin:0 0;">1,039</div>
<div class="t" style="left:486.35px;top:228.30px;font-size:9.6px;line-height:14px;color:#444;transform:scaleX(0.951);transform-origin:0 0;">(+5)</div>
<div class="t" style="left:561.50px;top:201.30px;font-size:10px;line-height:15px;font-weight:700;color:#222;transform:scaleX(0.824);transform-origin:0 0;">서울</div>
<div class="t" style="left:555.50px;top:213.50px;font-size:12.5px;line-height:19px;font-weight:700;color:#111;transform:scaleX(0.862);transform-origin:0 0;">5,912</div>
<div class="t" style="left:558.20px;top:228.80px;font-size:9.6px;line-height:14px;color:#444;transform:scaleX(0.961);transform-origin:0 0;">(+36)</div>
<div class="t" style="left:596.80px;top:242.80px;font-size:10px;line-height:15px;font-weight:700;color:#222;transform:scaleX(0.824);transform-origin:0 0;">충북</div>
<div class="t" style="left:595.22px;top:255.50px;font-size:12.5px;line-height:19px;font-weight:700;color:#111;transform:scaleX(0.868);transform-origin:0 0;">187</div>
<div class="t" style="left:598.85px;top:270.80px;font-size:9.6px;line-height:14px;color:#444;transform:scaleX(0.945);transform-origin:0 0;">(0)</div>
<div class="t" style="left:534.30px;top:267.70px;font-size:10px;line-height:15px;font-weight:700;color:#222;transform:scaleX(0.824);transform-origin:0 0;">세종</div>
<div class="t" style="left:535.75px;top:279.90px;font-size:12.5px;line-height:19px;font-weight:700;color:#111;transform:scaleX(0.867);transform-origin:0 0;">79</div>
<div class="t" style="left:536.35px;top:295.20px;font-size:9.6px;line-height:14px;color:#444;transform:scaleX(0.945);transform-origin:0 0;">(0)</div>
<div class="t" style="left:491.55px;top:310.70px;font-size:10px;line-height:15px;font-weight:700;color:#222;transform:scaleX(0.824);transform-origin:0 0;">충남</div>
<div class="t" style="left:489.98px;top:322.40px;font-size:12.5px;line-height:19px;font-weight:700;color:#111;transform:scaleX(0.868);transform-origin:0 0;">533</div>
<div class="t" style="left:490.90px;top:337.70px;font-size:9.6px;line-height:14px;color:#444;transform:scaleX(0.951);transform-origin:0 0;">(+1)</div>
<div class="t" style="left:576.00px;top:307.30px;font-size:10px;line-height:15px;font-weight:700;color:#222;transform:scaleX(0.824);transform-origin:0 0;">대전</div>
<div class="t" style="left:574.42px;top:319.50px;font-size:12.5px;line-height:19px;font-weight:700;color:#111;transform:scaleX(0.868);transform-origin:0 0;">442</div>
<div class="t" style="left:578.05px;top:334.80px;font-size:9.6px;line-height:14px;color:#444;transform:scaleX(0.945);transform-origin:0 0;">(0)</div>
<div class="t" style="left:653.60px;top:290.80px;font-size:10px;line-height:15px;font-weight:700;color:#222;transform:scaleX(0.824);transform-origin:0 0;">경북</div>
<div class="t" style="left:647.60px;top:303.50px;font-size:12.5px;line-height:19px;font-weight:700;color:#111;transform:scaleX(0.862);transform-origin:0 0;">1,587</div>
<div class="t" style="left:652.95px;top:318.80px;font-size:9.6px;line-height:14px;color:#444;transform:scaleX(0.951);transform-origin:0 0;">(+1)</div>
<div class="t" style="left:669.67px;top:351.40px;font-size:10px;line-height:15px;font-weight:700;color:#222;transform:scaleX(0.824);transform-origin:0 0;">대구</div>
<div class="t" style="left:663.67px;top:363.60px;font-size:12.5px;line-height:19px;font-weight:700;color:#111;transform:scaleX(0.862);transform-origin:0 0;">7,155</div>
<div class="t" style="left:669.02px;top:378.90px;font-size:9.6px;line-height:14px;color:#444;transform:scaleX(0.951);transform-origin:0 0;">(+3)</div>
<div class="t" style="left:538.25px;top:371.80px;font-size:10px;line-height:15px;font-weight:700;color:#222;transform:scaleX(0.824);transform-origin:0 0;">전북</div>
<div class="t" style="left:536.67px;top:384.50px;font-size:12.5px;line-height:19px;font-weight:700;color:#111;transform:scaleX(0.868);transform-origin:0 0;">164</div>
<div class="t" style="left:537.60px;top:399.80px;font-size:9.6px;line-height:14px;color:#444;transform:scaleX(0.951);transform-origin:0 0;">(+1)</div>
<div class="t" style="left:614.75px;top:427.30px;font-size:10px;line-height:15px;font-weight:700;color:#222;transform:scaleX(0.824);transform-origin:0 0;">경남</div>
<div class="t" style="left:613.17px;top:439.50px;font-size:12.5px;line-height:19px;font-weight:700;color:#111;transform:scaleX(0.868);transform-origin:0 0;">314</div>
<div class="t" style="left:616.80px;top:454.80px;font-size:9.6px;line-height:14px;color:#444;transform:scaleX(0.945);transform-origin:0 0;">(0)</div>
<div class="t" style="left:531.75px;top:442.80px;font-size:10px;line-height:15px;font-weight:700;color:#222;transform:scaleX(0.824);transform-origin:0 0;">광주</div>
<div class="t" style="left:530.17px;top:455.50px;font-size:12.5px;line-height:19px;font-weight:700;color:#111;transform:scaleX(0.898);transform-origin:0 0;">511</div>
<div class="t" style="left:531.10px;top:470.80px;font-size:9.6px;line-height:14px;color:#444;transform:scaleX(0.951);transform-origin:0 0;">(+2)</div>
<div class="t" style="left:711.00px;top:430.80px;font-size:10px;line-height:15px;font-weight:700;color:#222;transform:scaleX(0.824);transform-origin:0 0;">울산</div>
<div class="t" style="left:709.42px;top:443.00px;font-size:12.5px;line-height:19px;font-weight:700;color:#111;transform:scaleX(0.868);transform-origin:0 0;">161</div>
<div class="t" style="left:710.35px;top:458.30px;font-size:9.6px;line-height:14px;color:#444;transform:scaleX(0.951);transform-origin:0 0;">(+2)</div>
<div class="t" style="left:482.70px;top:464.40px;font-size:10px;line-height:15px;font-weight:700;color:#222;transform:scaleX(0.824);transform-origin:0 0;">전남</div>
<div class="t" style="left:481.12px;top:476.10px;font-size:12.5px;line-height:19px;font-weight:700;color:#111;transform:scaleX(0.868);transform-origin:0 0;">184</div>
<div class="t" style="left:484.75px;top:491.40px;font-size:9.6px;line-height:14px;color:#444;transform:scaleX(0.945);transform-origin:0 0;">(0)</div>
<div class="t" style="left:676.25px;top:469.80px;font-size:10px;line-height:15px;font-weight:700;color:#222;transform:scaleX(0.824);transform-origin:0 0;">부산</div>
<div class="t" style="left:674.67px;top:482.00px;font-size:12.5px;line-height:19px;font-weight:700;color:#111;transform:scaleX(0.868);transform-origin:0 0;">590</div>
<div class="t" style="left:678.30px;top:497.30px;font-size:9.6px;line-height:14px;color:#444;transform:scaleX(0.945);transform-origin:0 0;">(0)</div>
<div class="t" style="left:494.50px;top:552.80px;font-size:10px;line-height:15px;font-weight:700;color:#222;transform:scaleX(0.824);transform-origin:0 0;">제주</div>
<div class="t" style="left:495.95px;top:565.00px;font-size:12.5px;line-height:19px;font-weight:700;color:#111;transform:scaleX(0.867);transform-origin:0 0;">59</div>
<div class="t" style="left:496.55px;top:580.30px;font-size:9.6px;line-height:14px;color:#444;transform:scaleX(0.945);transform-origin:0 0;">(0)</div>
<div class="t" style="left:695.50px;top:526.30px;font-size:10px;line-height:15px;font-weight:700;color:#222;transform:scaleX(0.824);transform-origin:0 0;">검역</div>
<div class="t" style="left:689.50px;top:538.50px;font-size:12.5px;line-height:19px;font-weight:700;color:#111;transform:scaleX(0.862);transform-origin:0 0;">1,737</div>
<div class="t" style="left:694.85px;top:553.80px;font-size:9.6px;line-height:14px;color:#444;transform:scaleX(0.951);transform-origin:0 0;">(+9)</div>
<div class="t" style="left:789.50px;top:106.00px;font-size:20px;line-height:30px;font-weight:700;color:#000;transform:scaleX(0.989);transform-origin:0 0;">전국</div>
<div class="t" style="left:849.00px;top:111.50px;font-size:12px;line-height:18px;font-weight:700;color:#222;transform:scaleX(0.929);transform-origin:0 0;">국내발생비율</div>
<div class="t" style="left:918.30px;top:114.20px;font-size:8.5px;line-height:13px;font-weight:700;color:#fff;">?</div>
<div class="t" style="left:910.50px;top:137.90px;font-size:10.5px;line-height:16px;color:#222;transform:scaleX(1.017);transform-origin:0 0;">대구</div>
<div class="t" style="left:905.00px;top:154.40px;font-size:9.5px;line-height:14px;color:#222;transform:scaleX(0.932);transform-origin:0 0;">27.24 %</div>
<div class="t" style="left:800.00px;top:151.00px;font-size:10.5px;line-height:16px;color:#222;transform:scaleX(1.072);transform-origin:0 0;">경기</div>
<div class="t" style="left:794.50px;top:167.50px;font-size:9.5px;line-height:14px;color:#222;transform:scaleX(0.932);transform-origin:0 0;">20.34 %</div>
<div class="t" style="left:810.50px;top:239.00px;font-size:10.5px;line-height:16px;color:#222;transform:scaleX(0.966);transform-origin:0 0;">서울</div>
<div class="t" style="left:804.50px;top:255.00px;font-size:9.5px;line-height:14px;color:#222;transform:scaleX(0.932);transform-origin:0 0;">22.50 %</div>
<div class="t" style="left:895.00px;top:242.00px;font-size:9.5px;line-height:14px;color:#222;transform:scaleX(0.936);transform-origin:0 0;">기타 23.31 %</div>
<div class="t" style="left:786.00px;top:312.00px;font-size:11px;line-height:16px;color:#222;transform:scaleX(0.958);transform-origin:0 0;">누적 확진환자</div>
<div class="t" style="left:893.50px;top:306.50px;font-size:15.5px;line-height:23px;color:#111;transform:scaleX(0.887);transform-origin:0 0;">26,271</div>
<div class="t" style="left:938.38px;top:311.50px;font-size:11px;line-height:16px;color:#555;transform:scaleX(1.125);transform-origin:0 0;">명</div>
<div class="t" style="left:786.00px;top:361.30px;font-size:11px;line-height:16px;color:#222;transform:scaleX(0.946);transform-origin:0 0;">격리중</div>
<div class="t" style="left:901.11px;top:355.80px;font-size:15.5px;line-height:23px;color:#111;transform:scaleX(0.888);transform-origin:0 0;">1,641</div>
<div class="t" style="left:938.38px;top:360.80px;font-size:11px;line-height:16px;color:#555;transform:scaleX(1.125);transform-origin:0 0;">명</div>
<div class="t" style="left:786.00px;top:389.80px;font-size:11px;line-height:16px;color:#222;transform:scaleX(0.974);transform-origin:0 0;">누적 격리해제</div>
<div class="t" style="left:893.50px;top:384.30px;font-size:15.5px;line-height:23px;color:#111;transform:scaleX(0.887);transform-origin:0 0;">24,168</div>
<div class="t" style="left:938.38px;top:389.30px;font-size:11px;line-height:16px;color:#555;transform:scaleX(1.125);transform-origin:0 0;">명</div>
<div class="t" style="left:786.00px;top:419.10px;font-size:11px;line-height:16px;color:#222;transform:scaleX(0.946);transform-origin:0 0;">사망자</div>
<div class="t" style="left:912.20px;top:413.60px;font-size:15.5px;line-height:23px;color:#111;transform:scaleX(0.903);transform-origin:0 0;">462</div>
<div class="t" style="left:938.38px;top:418.60px;font-size:11px;line-height:16px;color:#555;transform:scaleX(1.125);transform-origin:0 0;">명</div>
<div class="t" style="left:785.50px;top:337.00px;font-size:9.5px;line-height:14px;color:#1a9fd0;transform:scaleX(0.949);transform-origin:0 0;">전일 대비 증감</div>
<div class="t" style="left:922.50px;top:335.50px;font-size:9.5px;line-height:14px;color:#1a9fd0;transform:scaleX(0.961);transform-origin:0 0;">(+125)</div>
<div class="t" style="left:786.00px;top:448.50px;font-size:9.5px;line-height:14px;color:#555;transform:scaleX(0.948);transform-origin:0 0;">10만명당 발생률</div>
<div class="t" style="left:901.50px;top:442.00px;font-size:15.5px;line-height:23px;color:#111;transform:scaleX(0.878);transform-origin:0 0;">50.67</div>
<div class="t" style="left:938.38px;top:447.00px;font-size:11px;line-height:16px;color:#555;transform:scaleX(1.125);transform-origin:0 0;">명</div>
<div class="t" style="left:25.50px;top:617.00px;font-size:21px;line-height:32px;font-family:'Liberation Serif',serif;color:#000;transform:scaleX(1.050);transform-origin:0 0;">o</div>
<div class="t" style="left:55.00px;top:621.00px;font-size:17.5px;line-height:26px;font-weight:700;word-spacing:4px;color:#000;transform:scaleX(1.221);transform-origin:0 0;">제주특별자치도 발생동향</div>
<div class="t" style="left:35.00px;top:754.50px;font-size:21px;line-height:32px;font-family:'Liberation Serif',serif;color:#000;transform:scaleX(1.050);transform-origin:0 0;">o</div>
<div class="t" style="left:65.00px;top:758.50px;font-size:17.5px;line-height:26px;font-weight:700;word-spacing:4px;color:#000;transform:scaleX(1.210);transform-origin:0 0;">학내 발생동향</div>
<div class="t" style="left:206.00px;top:758.50px;font-size:17.5px;line-height:26px;font-weight:700;word-spacing:3px;color:#000;transform:scaleX(1.097);transform-origin:0 0;">(2020. 10. 29.)</div>
<div class="t" style="left:97.75px;top:666.50px;font-size:18.5px;line-height:28px;font-weight:700;color:#000;transform:scaleX(1.132);transform-origin:0 0;">구분</div>
<div class="t" style="left:228.05px;top:667.00px;font-size:18.5px;line-height:28px;font-weight:700;color:#000;transform:scaleX(1.124);transform-origin:0 0;">확진환자</div>
<div class="t" style="left:346.40px;top:657.50px;font-size:18.5px;line-height:28px;font-weight:700;color:#000;transform:scaleX(1.133);transform-origin:0 0;">격리해제</div>
<div class="t" style="left:359.95px;top:680.00px;font-size:18.5px;line-height:28px;font-weight:700;color:#000;transform:scaleX(1.071);transform-origin:0 0;">(완치)</div>
<div class="t" style="left:473.75px;top:667.00px;font-size:18.5px;line-height:28px;font-weight:700;color:#000;transform:scaleX(1.127);transform-origin:0 0;">사망자</div>
<div class="t" style="left:580.65px;top:667.00px;font-size:18.5px;line-height:28px;font-weight:700;color:#000;transform:scaleX(1.144);transform-origin:0 0;">검사진행</div>
<div class="t" style="left:711.85px;top:655.40px;font-size:18.5px;line-height:28px;font-weight:700;color:#000;transform:scaleX(1.123);transform-origin:0 0;">자가격리</div>
<div class="t" style="left:690.05px;top:677.40px;font-size:18.5px;line-height:28px;font-weight:700;color:#000;transform:scaleX(1.177);transform-origin:0 0;">(확진자 접촉)</div>
<div class="t" style="left:858.20px;top:655.40px;font-size:18.5px;line-height:28px;font-weight:700;color:#000;transform:scaleX(1.127);transform-origin:0 0;">자가격리</div>
<div class="t" style="left:851.50px;top:677.40px;font-size:18.5px;line-height:28px;font-weight:700;color:#000;transform:scaleX(1.109);transform-origin:0 0;">(해외입국)</div>
<div class="t" style="left:40.00px;top:708.50px;font-size:18.5px;line-height:28px;font-weight:700;word-spacing:3px;color:#0000cd;transform:scaleX(1.050);transform-origin:0 0;">20. 10. 29. 00:00</div>
<div class="t" style="left:257.75px;top:708.80px;font-size:18.5px;line-height:28px;color:#000;transform:scaleX(0.912);transform-origin:0 0;">59</div>
<div class="t" style="left:375.75px;top:708.80px;font-size:18.5px;line-height:28px;color:#000;transform:scaleX(0.912);transform-origin:0 0;">59</div>
<div class="t" style="left:497.00px;top:708.80px;font-size:18.5px;line-height:28px;color:#000;transform:scaleX(0.900);transform-origin:0 0;">0</div>
<div class="t" style="left:609.95px;top:708.80px;font-size:18.5px;line-height:28px;color:#000;transform:scaleX(0.922);transform-origin:0 0;">60</div>
<div class="t" style="left:741.75px;top:708.80px;font-size:18.5px;line-height:28px;color:#000;transform:scaleX(0.912);transform-origin:0 0;">45</div>
<div class="t" style="left:880.59px;top:708.80px;font-size:18.5px;line-height:28px;color:#000;transform:scaleX(1.014);transform-origin:0 0;">186</div>
<div class="t" style="left:69.50px;top:806.50px;font-size:19.0px;line-height:28px;color:#000;transform:scaleX(1.160);transform-origin:0 0;">구분</div>
<div class="t" style="left:227.70px;top:795.30px;font-size:19.0px;line-height:28px;color:#000;transform:scaleX(1.132);transform-origin:0 0;">확진환자</div>
<div class="t" style="left:179.55px;top:820.50px;font-size:19.0px;line-height:28px;color:#000;transform:scaleX(1.150);transform-origin:0 0;">격리중</div>
<div class="t" style="left:286.23px;top:820.50px;font-size:19.0px;line-height:28px;color:#000;transform:scaleX(1.068);transform-origin:0 0;">격리해제</div>
<div class="t" style="left:633.00px;top:794.50px;font-size:18.5px;line-height:28px;font-weight:700;color:#000;transform:scaleX(1.161);transform-origin:0 0;">의심환자</div>
<div class="t" style="left:409.50px;top:819.50px;font-size:18.5px;line-height:28px;font-weight:700;color:#000;transform:scaleX(1.117);transform-origin:0 0;">검사중</div>
<div class="t" style="left:519.10px;top:819.50px;font-size:18.5px;line-height:28px;font-weight:700;color:#000;transform:scaleX(1.089);transform-origin:0 0;">결과음성</div>
<div class="t" style="left:644.30px;top:819.50px;font-size:18.5px;line-height:28px;font-weight:700;color:#000;transform:scaleX(1.097);transform-origin:0 0;">격리중</div>
<div class="t" style="left:751.00px;top:819.50px;font-size:18.5px;line-height:28px;font-weight:700;color:#000;transform:scaleX(1.133);transform-origin:0 0;">격리해제</div>
<div class="t" style="left:886.38px;top:819.50px;font-size:18.5px;line-height:28px;font-weight:700;color:#000;transform:scaleX(1.121);transform-origin:0 0;">비고</div>
<div class="t" style="left:49.00px;top:845.80px;font-size:18px;line-height:27px;color:#000;transform:scaleX(1.024);transform-origin:0 0;">`20.&nbsp; 2.10.</div>
<div class="t" style="left:541.39px;top:846.30px;font-size:18px;line-height:27px;color:#000;transform:scaleX(1.062);transform-origin:0 0;">1명</div>
<div class="t" style="left:49.00px;top:870.55px;font-size:18px;line-height:27px;color:#000;transform:scaleX(1.042);transform-origin:0 0;">`20.&nbsp; 2.11.</div>
<div class="t" style="left:541.39px;top:871.05px;font-size:18px;line-height:27px;color:#000;transform:scaleX(1.062);transform-origin:0 0;">1명</div>
<div class="t" style="left:49.00px;top:895.05px;font-size:18px;line-height:27px;color:#000;transform:scaleX(1.024);transform-origin:0 0;">`20.&nbsp; 2.13.</div>
<div class="t" style="left:541.39px;top:895.55px;font-size:18px;line-height:27px;color:#000;transform:scaleX(1.062);transform-origin:0 0;">1명</div>
<div class="t" style="left:49.00px;top:919.55px;font-size:18px;line-height:27px;color:#000;transform:scaleX(1.024);transform-origin:0 0;">`20.&nbsp; 2.20.</div>
<div class="t" style="left:541.39px;top:920.05px;font-size:18px;line-height:27px;color:#000;transform:scaleX(1.062);transform-origin:0 0;">1명</div>
<div class="t" style="left:49.00px;top:944.05px;font-size:18px;line-height:27px;color:#000;transform:scaleX(1.024);transform-origin:0 0;">`20.&nbsp; 2.21.</div>
<div class="t" style="left:541.39px;top:944.55px;font-size:18px;line-height:27px;color:#000;transform:scaleX(1.062);transform-origin:0 0;">1명</div>
<div class="t" style="left:49.00px;top:968.55px;font-size:18px;line-height:27px;color:#000;transform:scaleX(1.024);transform-origin:0 0;">`20.&nbsp; 2.23.</div>
<div class="t" style="left:541.39px;top:969.05px;font-size:18px;line-height:27px;color:#000;transform:scaleX(1.062);transform-origin:0 0;">1명</div>
<div class="t" style="left:49.00px;top:993.20px;font-size:18px;line-height:27px;color:#000;transform:scaleX(1.024);transform-origin:0 0;">`20.&nbsp; 2.24.</div>
<div class="t" style="left:541.39px;top:993.70px;font-size:18px;line-height:27px;color:#000;transform:scaleX(1.062);transform-origin:0 0;">1명</div>
<div class="t" style="left:49.00px;top:1018.00px;font-size:18px;line-height:27px;color:#000;transform:scaleX(1.024);transform-origin:0 0;">`20.&nbsp; 3.&nbsp; 6.</div>
<div class="t" style="left:776.25px;top:1018.50px;font-size:18px;line-height:27px;color:#000;transform:scaleX(1.020);transform-origin:0 0;">2명</div>
<div class="t" style="left:49.00px;top:1042.80px;font-size:18px;line-height:27px;color:#000;transform:scaleX(1.024);transform-origin:0 0;">`20.&nbsp; 3.12.</div>
<div class="t" style="left:541.39px;top:1043.30px;font-size:18px;line-height:27px;color:#000;transform:scaleX(1.062);transform-origin:0 0;">1명</div>
<div class="t" style="left:49.00px;top:1067.60px;font-size:18px;line-height:27px;color:#000;transform:scaleX(1.024);transform-origin:0 0;">`20.&nbsp; 3.13.</div>
<div class="t" style="left:776.25px;top:1068.10px;font-size:18px;line-height:27px;color:#000;transform:scaleX(1.020);transform-origin:0 0;">2명</div>
<div class="t" style="left:49.00px;top:1092.40px;font-size:18px;line-height:27px;color:#000;transform:scaleX(1.024);transform-origin:0 0;">`20.&nbsp; 3.14.</div>
<div class="t" style="left:541.39px;top:1092.90px;font-size:18px;line-height:27px;color:#000;transform:scaleX(1.062);transform-origin:0 0;">1명</div>
<div class="t" style="left:49.00px;top:1117.20px;font-size:18px;line-height:27px;color:#000;transform:scaleX(1.024);transform-origin:0 0;">`20.&nbsp; 3.19.</div>
<div class="t" style="left:541.39px;top:1117.70px;font-size:18px;line-height:27px;color:#000;transform:scaleX(1.062);transform-origin:0 0;">1명</div>
<div class="t" style="left:49.00px;top:1142.00px;font-size:18px;line-height:27px;color:#000;transform:scaleX(1.024);transform-origin:0 0;">`20.&nbsp; 3.20.</div>
<div class="t" style="left:775.19px;top:1142.50px;font-size:18px;line-height:27px;color:#000;transform:scaleX(1.062);transform-origin:0 0;">1명</div>
<div class="t" style="left:49.00px;top:1166.80px;font-size:18px;line-height:27px;color:#000;transform:scaleX(1.024);transform-origin:0 0;">`20.&nbsp; 3.21.</div>
<div class="t" style="left:541.39px;top:1167.30px;font-size:18px;line-height:27px;color:#000;transform:scaleX(1.062);transform-origin:0 0;">1명</div>
<div class="t" style="left:49.00px;top:1191.60px;font-size:18px;line-height:27px;color:#000;transform:scaleX(1.024);transform-origin:0 0;">`20.&nbsp; 4.&nbsp; 8.</div>
<div class="t" style="left:541.39px;top:1192.10px;font-size:18px;line-height:27px;color:#000;transform:scaleX(1.062);transform-origin:0 0;">1명</div>
<div class="t" style="left:49.00px;top:1216.40px;font-size:18px;line-height:27px;color:#000;transform:scaleX(1.024);transform-origin:0 0;">`20.&nbsp; 4.15.</div>
<div class="t" style="left:541.39px;top:1216.90px;font-size:18px;line-height:27px;color:#000;transform:scaleX(1.062);transform-origin:0 0;">1명</div>
<div class="t" style="left:49.00px;top:1241.20px;font-size:18px;line-height:27px;color:#000;transform:scaleX(1.024);transform-origin:0 0;">`20.&nbsp; 4.16.</div>
<div class="t" style="left:541.39px;top:1241.70px;font-size:18px;line-height:27px;color:#000;transform:scaleX(1.062);transform-origin:0 0;">1명</div>
<div class="t" style="left:49.00px;top:1266.00px;font-size:18px;line-height:27px;color:#000;transform:scaleX(1.024);transform-origin:0 0;">`20.&nbsp; 6.23.</div>
<div class="t" style="left:541.39px;top:1266.50px;font-size:18px;line-height:27px;color:#000;transform:scaleX(1.062);transform-origin:0 0;">1명</div>
<div class="t" style="left:49.00px;top:1290.80px;font-size:18px;line-height:27px;color:#000;transform:scaleX(1.024);transform-origin:0 0;">`20.&nbsp; 8.25.</div>
<div class="t" style="left:541.39px;top:1291.30px;font-size:18px;line-height:27px;color:#000;transform:scaleX(1.062);transform-origin:0 0;">1명</div>
<div class="t" style="left:49.00px;top:1315.60px;font-size:18px;line-height:27px;color:#000;transform:scaleX(1.024);transform-origin:0 0;">`20.&nbsp; 8.27.</div>
<div class="t" style="left:541.39px;top:1316.10px;font-size:18px;line-height:27px;color:#000;transform:scaleX(1.062);transform-origin:0 0;">1명</div>
<div class="t" style="left:49.00px;top:1339.40px;font-size:18px;line-height:27px;color:#000;transform:scaleX(1.024);transform-origin:0 0;">`20.&nbsp; 8.28.</div>
<div class="t" style="left:541.39px;top:1339.90px;font-size:18px;line-height:27px;color:#000;transform:scaleX(1.062);transform-origin:0 0;">1명</div>
<div class="t" style="left:81.00px;top:1364.30px;font-size:18px;line-height:27px;color:#000;transform:scaleX(1.133);transform-origin:0 0;">계</div>
<div class="t" style="left:194.70px;top:1363.80px;font-size:17.5px;line-height:26px;font-weight:700;color:#000;transform:scaleX(1.173);transform-origin:0 0;">0명</div>
<div class="t" style="left:309.50px;top:1363.80px;font-size:17.5px;line-height:26px;font-weight:700;color:#000;transform:scaleX(1.173);transform-origin:0 0;">0명</div>
<div class="t" style="left:424.50px;top:1363.80px;font-size:17.5px;line-height:26px;font-weight:700;color:#000;transform:scaleX(1.173);transform-origin:0 0;">0명</div>
<div class="t" style="left:535.33px;top:1363.80px;font-size:17.5px;line-height:26px;font-weight:700;color:#000;transform:scaleX(1.165);transform-origin:0 0;">18명</div>
<div class="t" style="left:658.50px;top:1363.80px;font-size:17.5px;line-height:26px;font-weight:700;color:#000;transform:scaleX(1.173);transform-origin:0 0;">0명</div>
<div class="t" style="left:775.50px;top:1363.80px;font-size:17.5px;line-height:26px;font-weight:700;color:#000;transform:scaleX(1.173);transform-origin:0 0;">5명</div>
</body></html>
